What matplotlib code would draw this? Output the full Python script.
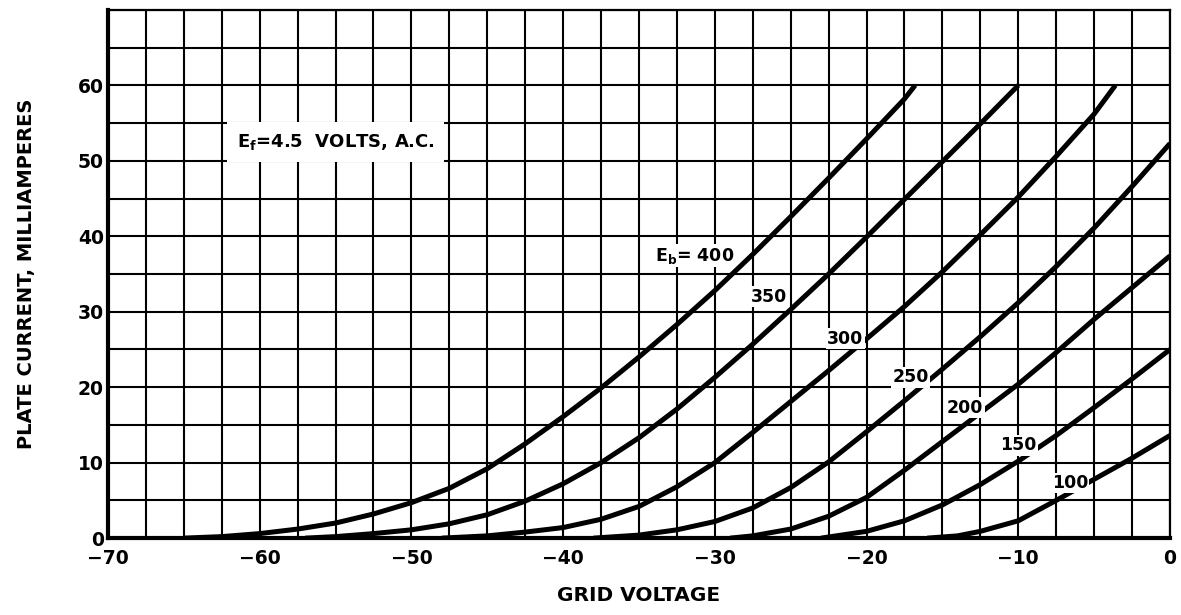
import matplotlib
matplotlib.use("Agg")
import matplotlib.pyplot as plt

# grid voltage (V) / plate current (mA), one pair of lists per plate voltage
eb400_v = [-65, -62.5, -60, -57.5, -55, -52.5, -50, -47.5, -45, -42.5, -40, -37.5, -35, -32.5, -30, -27.5, -25, -22.5, -20, -17.5, -16.8]
eb400_i = [0, 0.2, 0.6, 1.2, 2.0, 3.2, 4.7, 6.6, 9.2, 12.5, 16.1, 19.9, 24.0, 28.3, 32.8, 37.6, 42.6, 47.7, 52.9, 58.2, 60]

eb350_v = [-57, -55, -52.5, -50, -47.5, -45, -42.5, -40, -37.5, -35, -32.5, -30, -27.5, -25, -22.5, -20, -17.5, -15, -12.5, -10]
eb350_i = [0, 0.2, 0.6, 1.1, 1.9, 3.1, 4.9, 7.2, 10.0, 13.3, 17.1, 21.3, 25.7, 30.3, 35.0, 39.9, 44.9, 49.9, 54.9, 60]

eb300_v = [-48, -45, -42.5, -40, -37.5, -35, -32.5, -30, -27.5, -25, -22.5, -20, -17.5, -15, -12.5, -10, -7.5, -5, -3.6]
eb300_i = [0, 0.3, 0.8, 1.4, 2.5, 4.2, 6.8, 10.0, 14.0, 18.1, 22.2, 26.4, 30.7, 35.3, 40.2, 45.2, 50.6, 56.2, 60]

eb250_v = [-38, -35, -32.5, -30, -27.5, -25, -22.5, -20, -17.5, -15, -12.5, -10, -7.5, -5, -2.5, 0]
eb250_i = [0, 0.4, 1.1, 2.2, 4.0, 6.7, 10.1, 14.1, 18.2, 22.4, 26.7, 31.2, 36.0, 41.1, 46.6, 52.3]

eb200_v = [-29, -27.5, -25, -22.5, -20, -17.5, -15, -12.5, -10, -7.5, -5, -2.5, 0]
eb200_i = [0, 0.3, 1.2, 2.9, 5.4, 9.0, 12.8, 16.6, 20.4, 24.6, 29.0, 33.2, 37.4]

eb150_v = [-23, -20, -17.5, -15, -12.5, -10, -7.5, -5, -2.5, 0]
eb150_i = [0, 0.9, 2.3, 4.4, 7.1, 10.2, 13.6, 17.3, 21.1, 25.0]

eb100_v = [-16, -14, -12.5, -10, -7.5, -5, -2.5, 0]
eb100_i = [0, 0.3, 0.9, 2.3, 5.0, 7.8, 10.6, 13.6]

curves = [
    ("400", eb400_v, eb400_i),
    ("350", eb350_v, eb350_i),
    ("300", eb300_v, eb300_i),
    ("250", eb250_v, eb250_i),
    ("200", eb200_v, eb200_i),
    ("150", eb150_v, eb150_i),
    ("100", eb100_v, eb100_i),
]

# curve label anchors (grid volts, mA)
label_x = [-31.3, -26.4, -21.4, -17.1, -13.5, -10.0, -6.6]
label_y = [37.4, 32.0, 26.4, 21.3, 17.3, 12.3, 7.3]
label_txt = ["$\\mathbf{E_b}$= 400", "350", "300", "250", "200", "150", "100"]

plt.rcParams["font.family"] = ["DejaVu Sans"]
plt.rcParams["mathtext.fontset"] = "dejavusans"
plt.rcParams["axes.unicode_minus"] = True

fig = plt.figure(figsize=(11.81, 6.15), dpi=100)
ax = fig.add_axes([0.0914, 0.125, 0.8993, 0.859])

ax.set_xlim(-70, 0)
ax.set_ylim(0, 70)
ax.set_xticks(range(-70, 1, 10))
ax.set_yticks(range(0, 61, 10))
ax.set_xticks([x * 2.5 for x in range(-28, 1)], minor=True)
ax.set_yticks(range(0, 71, 5), minor=True)
ax.set_xticklabels(["\u221270", "\u221260", "\u221250", "\u221240", "\u221230", "\u221220", "\u221210", "0"])
ax.grid(True, which="both", color="black", linewidth=1.5, zorder=1)
ax.tick_params(which="both", length=0)
ax.tick_params(axis="x", pad=8, labelsize=13.5)
ax.tick_params(axis="y", pad=3, labelsize=13.5)
for lab in ax.get_xticklabels() + ax.get_yticklabels():
    lab.set_fontweight("bold")

for side in ["left", "bottom"]:
    ax.spines[side].set_linewidth(3.0)
for side in ["top", "right"]:
    ax.spines[side].set_linewidth(1.6)
ax.set_axisbelow(True)

for name, xs, ys in curves:
    ax.plot(xs, ys, color="black", linewidth=3.6, solid_capstyle="butt",
            solid_joinstyle="round", zorder=3)

for tx, ty, txt in zip(label_x, label_y, label_txt):
    ax.text(tx, ty, txt, ha="center", va="center", fontsize=12.5, fontweight="bold",
            bbox=dict(facecolor="white", edgecolor="none", pad=1.0), zorder=4)

ax.text(-55.0, 52.5, "$\\mathbf{E_f}$=4.5  VOLTS, A.C.", ha="center", va="center",
        fontsize=13, fontweight="bold",
        bbox=dict(facecolor="white", edgecolor="none", pad=7.0), zorder=4)

ax.set_xlabel("GRID VOLTAGE", fontsize=14.5, fontweight="bold", labelpad=13)
ax.set_ylabel("PLATE CURRENT, MILLIAMPERES", fontsize=14, fontweight="bold", labelpad=30)

fig.savefig("out.png", dpi=100)
